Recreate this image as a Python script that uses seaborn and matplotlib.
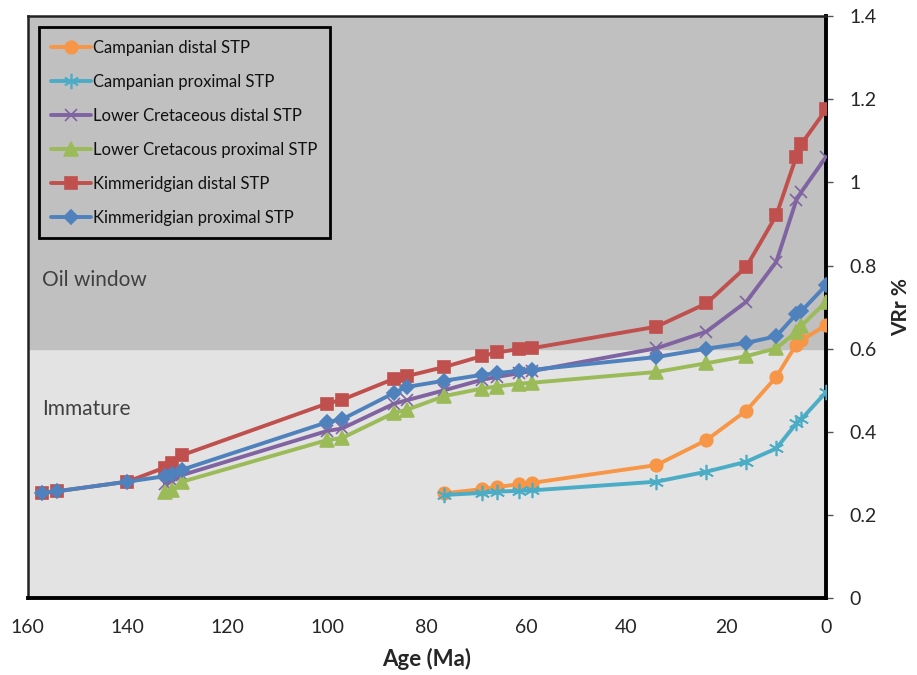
import numpy as np
import pandas as pd
import matplotlib
matplotlib.use("Agg")
import matplotlib.pyplot as plt
import seaborn as sns

# --- Estilo ---
sns.set_style("white")
plt.rcParams['font.family'] = ['Lato', 'DejaVu Sans']

# --- Datos ---
edades_kim = [157, 154, 140, 132.5, 131, 129, 100, 97, 86.5, 84, 76.5, 69, 66, 61.5, 59, 34, 24, 16, 10, 6, 5, 0]
edades_lc = [132.5, 131, 129, 100, 97, 86.5, 84, 76.5, 69, 66, 61.5, 59, 34, 24, 16, 10, 6, 5, 0]
edades_camp = [76.5, 69, 66, 61.5, 59, 34, 24, 16, 10, 6, 5, 0]

camp_distal = [0.252, 0.262, 0.267, 0.274, 0.277, 0.320, 0.380, 0.451, 0.532, 0.610, 0.620, 0.657]
camp_proximal = [0.248, 0.253, 0.256, 0.258, 0.259, 0.280, 0.304, 0.328, 0.360, 0.420, 0.430, 0.496]
lc_distal = [0.275, 0.282, 0.296, 0.402, 0.408, 0.468, 0.476, 0.500, 0.525, 0.532, 0.541, 0.546,
             0.601, 0.641, 0.713, 0.809, 0.957, 0.977, 1.062]
lc_proximal = [0.256, 0.260, 0.280, 0.380, 0.385, 0.446, 0.453, 0.486, 0.504, 0.509, 0.516, 0.518,
               0.544, 0.565, 0.582, 0.601, 0.640, 0.655, 0.713]
kim_distal = [0.253, 0.257, 0.280, 0.314, 0.326, 0.344, 0.468, 0.477, 0.528, 0.534, 0.556, 0.582,
              0.591, 0.599, 0.601, 0.653, 0.709, 0.797, 0.921, 1.062, 1.092, 1.176]
kim_proximal = [0.253, 0.257, 0.280, 0.293, 0.299, 0.309, 0.423, 0.430, 0.494, 0.508, 0.523, 0.537,
                0.541, 0.547, 0.549, 0.580, 0.600, 0.614, 0.630, 0.683, 0.690, 0.753]

series = [
    ('Campanian distal STP', edades_camp, camp_distal, '#F79646', 'o', 9),
    ('Campanian proximal STP', edades_camp, camp_proximal, '#4BACC6', (6, 2, 0), 11),
    ('Lower Cretaceous distal STP', edades_lc, lc_distal, '#8064A2', 'x', 9),
    ('Lower Cretacous proximal STP', edades_lc, lc_proximal, '#9BBB59', '^', 10),
    ('Kimmeridgian distal STP', edades_kim, kim_distal, '#C0504D', 's', 9),
    ('Kimmeridgian proximal STP', edades_kim, kim_proximal, '#4F81BD', 'D', 7),
]

fig = plt.figure(figsize=(9.17, 6.75), dpi=100)
ax = fig.add_axes([0.030, 0.114, 0.871, 0.862])

# Zonas de madurez
ax.axhspan(0, 0.6, color='#e3e3e3', zorder=0)
ax.axhspan(0.6, 1.4, color='#c0c0c0', zorder=0)

for nombre, x, y, color, marcador, tam in series:
    df = pd.DataFrame({'edad': x, 'vr': y})
    sns.lineplot(data=df, x='edad', y='vr', ax=ax, color=color, linewidth=2.8,
                 marker=marcador, markersize=tam, markeredgecolor=color,
                 markeredgewidth=1.2, label=nombre, sort=False, zorder=3)

ax.set_xlim(160, 0)
ax.set_ylim(0, 1.4)
ax.set_xticks(np.arange(160, -1, -20))
ax.set_yticks(np.arange(0, 1.41, 0.2))
ax.set_yticklabels(['0', '0.2', '0.4', '0.6', '0.8', '1', '1.2', '1.4'])
ax.yaxis.tick_right()
ax.yaxis.set_label_position('right')
ax.tick_params(axis='both', labelsize=14, length=5, width=1, color='#555555', direction='out', pad=10)
ax.tick_params(axis='y', pad=12)

for lado in ['left', 'top']:
    ax.spines[lado].set_color('#222222')
    ax.spines[lado].set_linewidth(1.8)
for lado in ['right', 'bottom']:
    ax.spines[lado].set_color('black')
    ax.spines[lado].set_linewidth(2.8)

ax.set_xlabel('Age (Ma)', fontsize=16, fontweight='bold', labelpad=9)
ax.set_ylabel('VRr %', fontsize=15, fontweight='bold', labelpad=10)

ax.text(157, 0.765, 'Oil window', fontsize=15, color='#404040', va='center', ha='left')
ax.text(157, 0.455, 'Immature', fontsize=15, color='#404040', va='center', ha='left')

leg = ax.legend(loc='upper left', bbox_to_anchor=(0.014, 0.981), fontsize=12,
                frameon=True, fancybox=False, facecolor='none', edgecolor='black',
                handlelength=2.4, handletextpad=0.1, labelspacing=1.08,
                borderpad=0.75, borderaxespad=0)
leg.get_frame().set_linewidth(2)
leg.get_frame().set_alpha(None)
for t in leg.get_texts():
    t.set_color('#111111')

plt.savefig('out.png', dpi=100)
